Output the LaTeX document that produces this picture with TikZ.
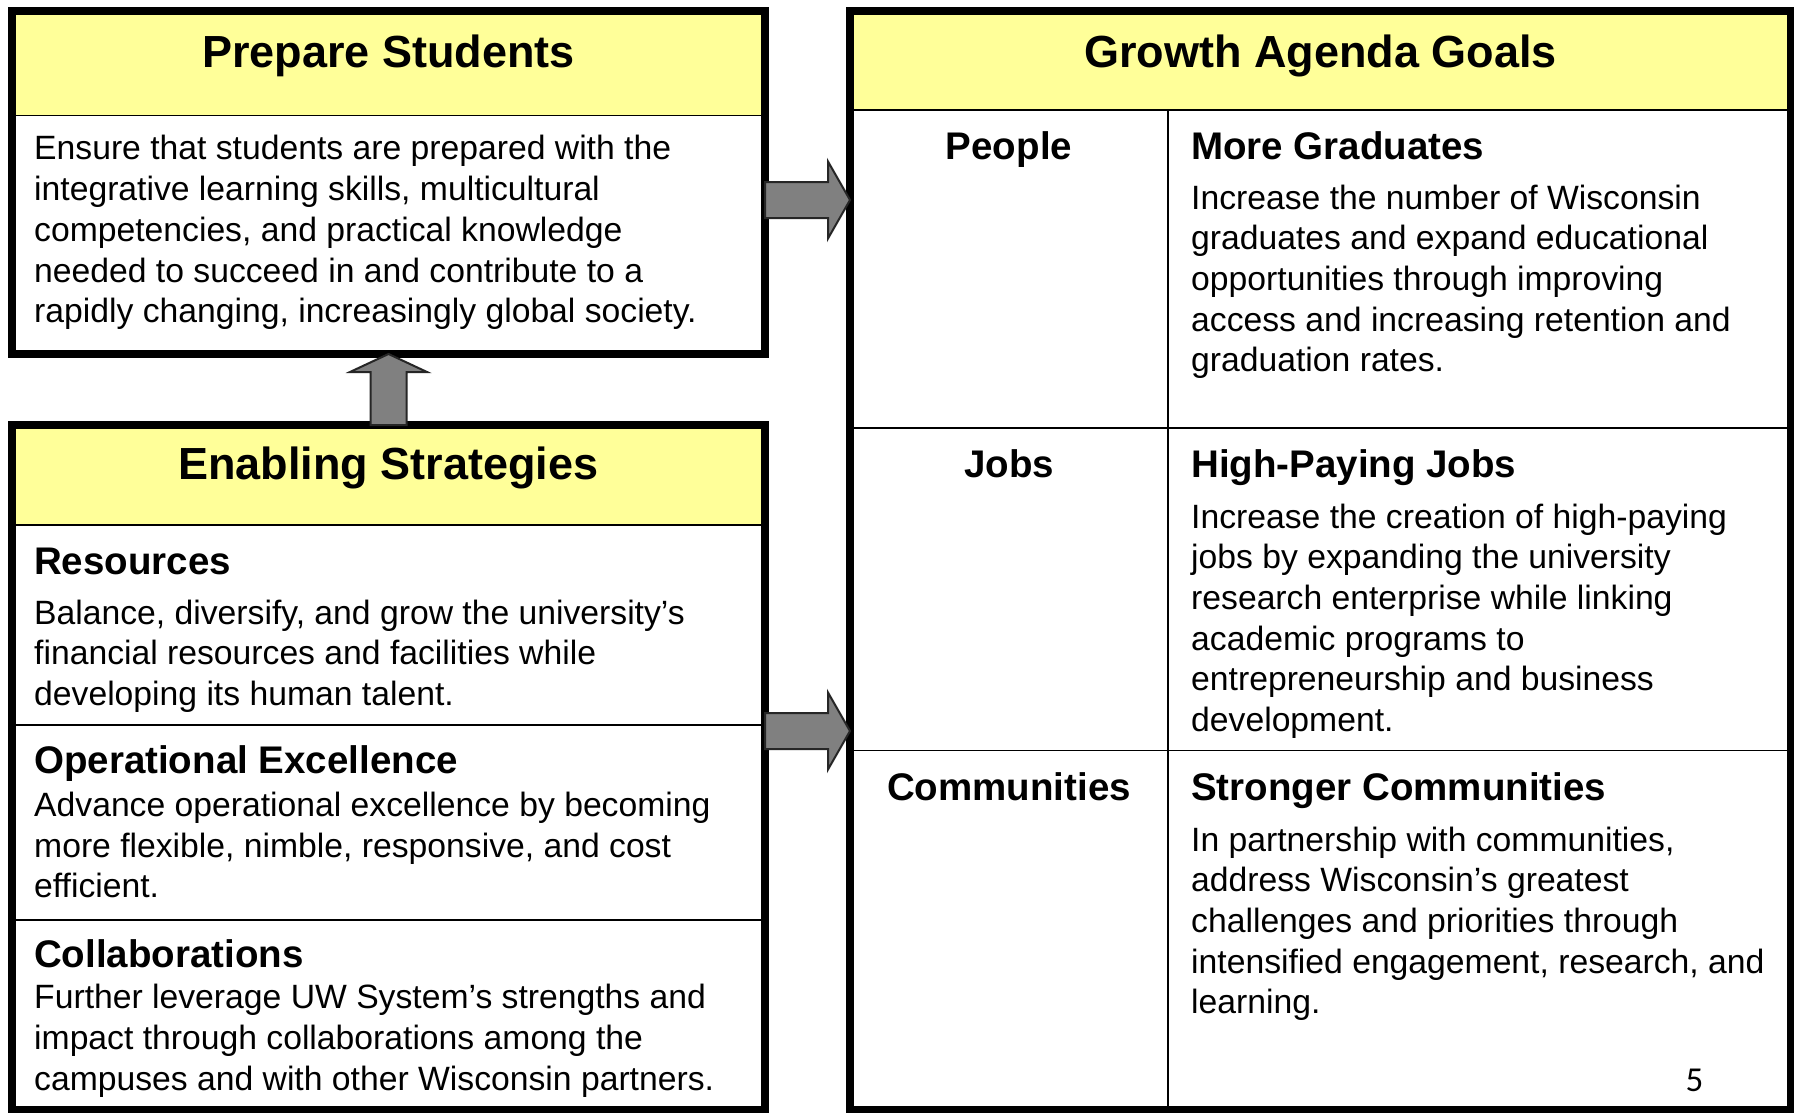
\documentclass[tikz,border=0pt]{standalone}
\usepackage{fontspec}
\setmainfont{Liberation Sans}
\newfontfamily\pagenumfont{Carlito}
\usetikzlibrary{calc}
\definecolor{hdryellow}{HTML}{FFFF99}
\definecolor{arrgray}{HTML}{808080}
\definecolor{arredge}{HTML}{262626}
\newcommand{\textlines}[1]{\begin{tabular}[t]{@{}l@{}}#1\end{tabular}}
\begin{document}
\begin{tikzpicture}[x=1pt,y=-1pt,
  box/.style={rectangle, draw=black, line width=8pt, fill=white, outer sep=0pt, inner sep=0pt},
  hdr/.style={fill=hdryellow},
  rule/.style={draw=black, line width=1.8pt},
  title/.style={font=\bfseries\fontsize{45}{54}\selectfont, anchor=base, inner sep=0pt},
  sub/.style={font=\bfseries\fontsize{38.5}{46}\selectfont, anchor=base west, inner sep=0pt},
  lab/.style={font=\bfseries\fontsize{38.5}{46}\selectfont, anchor=base, inner sep=0pt},
  body/.style={font=\fontsize{33.7}{40.7}\selectfont, anchor=base west, inner sep=0pt},
  blockarr/.style={fill=arrgray, draw=arredge, line width=2pt, line join=miter}
]
\fill[white] (0,0) rectangle (1794,1113);
\useasboundingbox (0,0) rectangle (1794,1113);

% boxes
\node[box, minimum width=753pt, minimum height=343pt] (prep) at (388.5,182.5) {};
\node[box, minimum width=753pt, minimum height=685pt] (enab) at (388.5,767.5) {};
\node[box, minimum width=941pt, minimum height=1099pt] (goals) at (1320.5,560.5) {};

% headers
\fill[hdr] ($(prep.north west)+(4,4)$) rectangle ($(prep.east |- 0,115.5)+(-4,0)$);
\draw[rule] (prep.west |- 0,115.5) -- (prep.east |- 0,115.5);
\fill[hdr] ($(enab.north west)+(4,4)$) rectangle ($(enab.east |- 0,525)+(-4,0)$);
\draw[rule] (enab.west |- 0,525) -- (enab.east |- 0,525);
\fill[hdr] ($(goals.north west)+(4,4)$) rectangle ($(goals.east |- 0,110)+(-4,0)$);
\draw[rule] (goals.west |- 0,110) -- (goals.east |- 0,110);

% dividers
\draw[rule] (enab.west |- 0,725) -- (enab.east |- 0,725);
\draw[rule] (enab.west |- 0,920) -- (enab.east |- 0,920);
\draw[rule] (goals.west |- 0,428) -- (goals.east |- 0,428);
\draw[rule] (goals.west |- 0,750.5) -- (goals.east |- 0,750.5);
\coordinate (coltop) at (1168,110);
\draw[rule] (coltop) -- (coltop |- goals.south);

% Prepare Students
\node[title] (ptitle) at (388.5,67.5) {Prepare Students};
\node[body] (pbody) at (34,160) {\textlines{Ensure that students are prepared with the\\integrative learning skills, multicultural\\competencies, and practical knowledge\\needed to succeed in and contribute to a\\rapidly changing, increasingly global society.}};

% Enabling Strategies
\node[title] (etitle) at (388.5,479.5) {Enabling Strategies};
\node[sub] (res) at (34,574) {Resources};
\node[body] (resb) at (34,624) {\textlines{Balance, diversify, and grow the university’s\\financial resources and facilities while\\developing its human talent.}};
\node[sub] (ope) at (34,773) {Operational Excellence};
\node[body] (opeb) at (34,816.5) {\textlines{Advance operational excellence by becoming\\more flexible, nimble, responsive, and cost\\efficient.}};
\node[sub] (col) at (34,967) {Collaborations};
\node[body] (colb) at (34,1008.7) {\textlines{Further leverage UW System’s strengths and\\impact through collaborations among the\\campuses and with other Wisconsin partners.}};

% Growth Agenda Goals
\node[title] (gtitle) at (1320.5,67.5) {Growth Agenda Goals};
\node[lab] (people) at (1009,160) {People};
\node[sub] (mg) at (1191,160) {More Graduates};
\node[body] (mgb) at (1191,209) {\textlines{Increase the number of Wisconsin\\graduates and expand educational\\opportunities through improving\\access and increasing retention and\\graduation rates.}};
\node[lab] (jobs) at (1009,477) {Jobs};
\node[sub] (hpj) at (1191,477) {High-Paying Jobs};
\node[body] (hpjb) at (1191,528) {\textlines{Increase the creation of high-paying\\jobs by expanding the university\\research enterprise while linking\\academic programs to\\entrepreneurship and business\\development.}};
\node[lab] (comm) at (1009,800) {Communities};
\node[sub] (sc) at (1191,800) {Stronger Communities};
\node[body] (scb) at (1191,851) {\textlines{In partnership with communities,\\address Wisconsin’s greatest\\challenges and priorities through\\intensified engagement, research, and\\learning.}};
\node[font=\pagenumfont\fontsize{35}{42}\selectfont, anchor=base, inner sep=0pt] (pgnum) at (1694.5,1091) {5};

% arrows
\coordinate (a1) at (0,200);
\coordinate (a2) at (0,731);
\coordinate (a1s) at (prep.east |- a1);
\coordinate (a1e) at (goals.west |- a1);
\coordinate (a2s) at (enab.east |- a2);
\coordinate (a2e) at (goals.west |- a2);
\draw[blockarr] ($(a1s)+(0,-18)$) -- ($(a1e)+(-22,-18)$) -- ($(a1e)+(-22,-38.5)$) -- (a1e) -- ($(a1e)+(-22,38.5)$) -- ($(a1e)+(-22,18)$) -- ($(a1s)+(0,18)$) -- cycle;
\draw[blockarr] ($(a2s)+(0,-18)$) -- ($(a2e)+(-22,-18)$) -- ($(a2e)+(-22,-38.5)$) -- (a2e) -- ($(a2e)+(-22,38.5)$) -- ($(a2e)+(-22,18)$) -- ($(a2s)+(0,18)$) -- cycle;
\draw[blockarr] ($(enab.north)+(-18,0)$) -- ($(prep.south)+(-18,18)$) -- ($(prep.south)+(-38.5,18)$) -- (prep.south) -- ($(prep.south)+(38.5,18)$) -- ($(prep.south)+(18,18)$) -- ($(enab.north)+(18,0)$) -- cycle;
\end{tikzpicture}
\end{document}
